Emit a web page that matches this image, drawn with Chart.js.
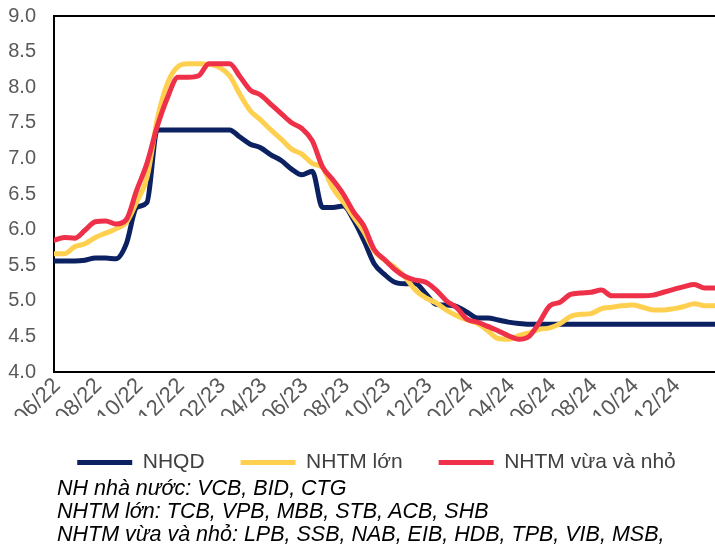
<!DOCTYPE html>
<html>
<head>
<meta charset="utf-8">
<script src="https://cdn.jsdelivr.net/npm/chart.js@4.4.0/dist/chart.umd.min.js"></script>
<style>
    body { margin: 0; background: #fff; width: 715px; height: 549px; overflow: hidden; font-family: "Liberation Sans", Arial, sans-serif; }
    #wrap { position: absolute; left: 0; top: 0; width: 715px; height: 483px; }
    #notes { position: absolute; left: 57px; top: 477px; font-style: italic; font-size: 21.5px; line-height: 23px; color: #000; white-space: nowrap; }
</style>
</head>
<body>
<div id="wrap"><canvas id="laiSuatChart"></canvas></div>
<div id="notes">
    <div>NH nhà nước: VCB, BID, CTG</div>
    <div>NHTM lớn: TCB, VPB, MBB, STB, ACB, SHB</div>
    <div>NHTM vừa và nhỏ: LPB, SSB, NAB, EIB, HDB, TPB, VIB, MSB,</div>
</div>
<script>
// so thang tinh tu 06/2022 (moc 0), moi diem cach nua thang
const months = [-0.15, 0.35, 0.85, 1.35, 1.85, 2.35, 2.85, 3.35, 3.85, 4.35, 4.85, 5.35, 5.85,
    6.35, 6.85, 7.35, 7.85, 8.35, 8.85, 9.35, 9.85, 10.35, 10.85, 11.35, 11.85, 12.35, 12.85,
    13.35, 13.85, 14.35, 14.85, 15.35, 15.85, 16.35, 16.85, 17.35, 17.85, 18.35, 18.85, 19.35,
    19.85, 20.35, 20.85, 21.35, 21.85, 22.35, 22.85, 23.35, 23.85, 24.35, 24.85, 25.35, 25.85,
    26.35, 26.85, 27.35, 27.85, 28.35, 28.85, 29.35, 29.85, 30.35, 30.85, 31.35, 31.85];

const nhqd = [5.56, 5.56, 5.56, 5.57, 5.60, 5.60, 5.59, 5.80, 6.31, 6.38, 7.40, 7.40, 7.40,
    7.40, 7.40, 7.40, 7.40, 7.40, 7.30, 7.20, 7.15, 7.05, 6.97, 6.85, 6.77, 6.82, 6.31,
    6.31, 6.33, 6.14, 5.85, 5.52, 5.37, 5.26, 5.24, 5.24, 5.10, 4.95, 4.94, 4.92,
    4.84, 4.76, 4.76, 4.73, 4.70, 4.68, 4.67, 4.67, 4.67, 4.67, 4.67, 4.67, 4.67,
    4.67, 4.67, 4.67, 4.67, 4.67, 4.67, 4.67, 4.67, 4.67, 4.67, 4.67, 4.67];

const nhtmLon = [5.66, 5.66, 5.76, 5.80, 5.89, 5.95, 6.01, 6.10, 6.39, 6.73, 7.55, 8.06, 8.29,
    8.33, 8.33, 8.32, 8.28, 8.16, 7.90, 7.67, 7.54, 7.40, 7.27, 7.13, 7.06, 6.93, 6.87,
    6.58, 6.39, 6.18, 5.97, 5.70, 5.57, 5.47, 5.33, 5.15, 5.04, 4.97, 4.87, 4.79,
    4.73, 4.68, 4.58, 4.47, 4.46, 4.51, 4.55, 4.60, 4.62, 4.68, 4.78, 4.81, 4.82,
    4.89, 4.91, 4.93, 4.94, 4.91, 4.87, 4.87, 4.89, 4.92, 4.96, 4.93, 4.93];

const nhtmVuaNho = [5.85, 5.89, 5.88, 5.99, 6.11, 6.12, 6.08, 6.14, 6.55, 6.93, 7.45, 7.86, 8.14,
    8.14, 8.16, 8.33, 8.33, 8.33, 8.15, 7.96, 7.89, 7.76, 7.63, 7.50, 7.42, 7.25, 6.88,
    6.70, 6.50, 6.25, 6.05, 5.72, 5.58, 5.44, 5.34, 5.29, 5.26, 5.15, 5.00, 4.90,
    4.74, 4.70, 4.64, 4.58, 4.51, 4.46, 4.50, 4.70, 4.93, 4.98, 5.09, 5.11, 5.12,
    5.15, 5.07, 5.07, 5.07, 5.07, 5.08, 5.12, 5.16, 5.20, 5.23, 5.18, 5.18];

const tickMonths = [0, 2, 4, 6, 8, 10, 12, 14, 16, 18, 20, 22, 24, 26, 28, 30];
const tickLabels = ['06/22', '08/22', '10/22', '12/22', '02/23', '04/23', '06/23', '08/23',
    '10/23', '12/23', '02/24', '04/24', '06/24', '08/24', '10/24', '12/24'];

const toPoints = (arr) => arr.map((v, i) => ({ x: months[i], y: v }));

// vien tren cua vung ve
const topBorder = {
    id: 'topBorder',
    afterDraw(chart) {
        const { ctx, chartArea } = chart;
        ctx.save();
        ctx.strokeStyle = '#000';
        ctx.lineWidth = 2;
        ctx.beginPath();
        ctx.moveTo(chartArea.left, chartArea.top);
        ctx.lineTo(chartArea.right, chartArea.top);
        ctx.stroke();
        ctx.restore();
    }
};

// dich chu giai sang phai mot chut
const legendShift = {
    id: 'legendShift',
    afterLayout(chart) {
        if (chart.legend) {
            chart.legend.left += 19;
            chart.legend.right += 19;
        }
    }
};

Chart.defaults.font.family = '"Liberation Sans", Arial, sans-serif';

function lineSet(label, data, color, order) {
    return {
        label: label,
        data: toPoints(data),
        borderColor: color,
        backgroundColor: color,
        borderWidth: 5,
        borderCapStyle: 'round',
        borderJoinStyle: 'round',
        pointRadius: 0,
        cubicInterpolationMode: 'monotone',
        order: order
    };
}

new Chart(document.getElementById('laiSuatChart'), {
    type: 'line',
    data: {
        datasets: [
            lineSet('NHQD', nhqd, '#0b2161', 3),
            lineSet('NHTM lớn', nhtmLon, '#ffd04f', 2),
            lineSet('NHTM vừa và nhỏ', nhtmVuaNho, '#ee3049', 1)
        ]
    },
    options: {
        responsive: true,
        maintainAspectRatio: false,
        animation: false,
        layout: { padding: { top: 16, right: 0, left: 0, bottom: 0 } },
        plugins: {
            legend: {
                position: 'bottom',
                labels: {
                    usePointStyle: true,
                    pointStyle: 'line',
                    pointStyleWidth: 55,
                    boxHeight: 5,
                    padding: 36,
                    color: '#404040',
                    font: { size: 21 },
                    sort: (a, b) => a.datasetIndex - b.datasetIndex
                }
            },
            tooltip: { enabled: false }
        },
        scales: {
            x: {
                type: 'linear',
                min: -0.15,
                max: 31.85,
                afterBuildTicks: (scale) => { scale.ticks = tickMonths.map(v => ({ value: v })); },
                afterFit: (scale) => { scale.height = 44; },
                ticks: {
                    minRotation: 45,
                    maxRotation: 45,
                    padding: 1,
                    color: '#595959',
                    font: { size: 22 },
                    callback: (value) => tickLabels[tickMonths.indexOf(value)]
                },
                grid: { display: false, drawTicks: false },
                border: { display: true, color: '#000', width: 2 }
            },
            y: {
                min: 4,
                max: 9,
                afterFit: (scale) => {
                    scale.width = 54;
                    scale.paddingTop = 0;
                    scale.paddingBottom = 0;
                },
                ticks: {
                    stepSize: 0.5,
                    padding: 18,
                    color: '#595959',
                    font: { size: 20 },
                    callback: (value) => value.toFixed(1)
                },
                grid: { display: false, drawTicks: false },
                border: { display: true, color: '#000', width: 2 }
            }
        }
    },
    plugins: [topBorder, legendShift]
});
</script>
</body>
</html>
